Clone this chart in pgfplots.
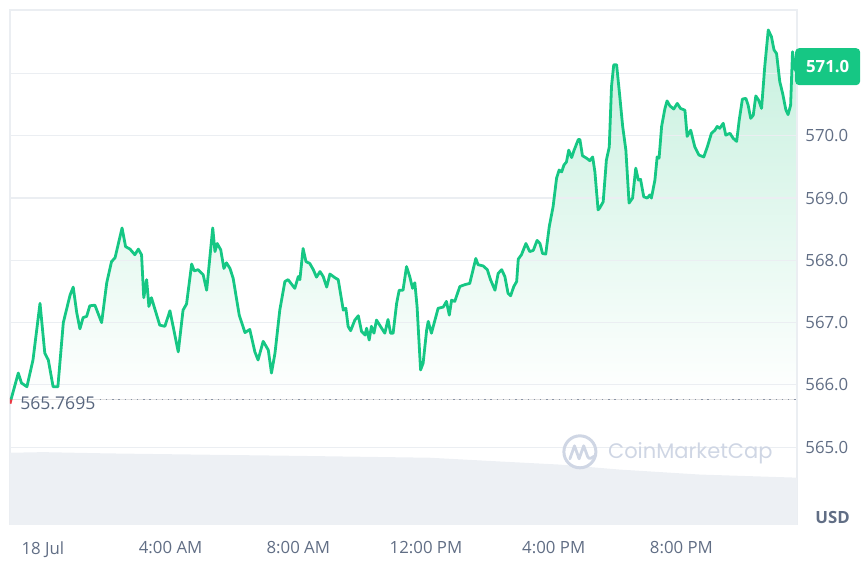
\documentclass[border=0pt]{standalone}
\usepackage{pgfplots}
\pgfplotsset{compat=1.18}
\usepackage{pgfplotstable}
\usepgfplotslibrary{fillbetween}
\usepackage{fontspec}
\setmainfont{Open Sans}
\newfontfamily\wmfont{Poppins}
\definecolor{cmcgreen}{HTML}{16C784}
\definecolor{cmcred}{HTML}{EA3943}
\definecolor{gridc}{HTML}{EBEEF2}
\definecolor{labc}{HTML}{616E85}
\definecolor{basec}{HTML}{58667E}
\definecolor{volc}{HTML}{EDF0F4}
\definecolor{wmc}{HTML}{CFD6E4}
\definecolor{filltop}{HTML}{C6F0DE}

\pgfplotstableread{
h p
-0.99 565.78
-0.77 566.19
-0.67 566.03
-0.50 565.97
-0.31 566.40
-0.09 567.31
0.06 566.51
0.17 566.40
0.32 565.97
0.47 565.97
0.64 567.00
0.85 567.44
0.95 567.57
1.06 567.16
1.16 566.90
1.26 567.08
1.37 567.10
1.47 567.27
1.63 567.28
1.84 567.00
2.00 567.64
2.15 567.98
2.26 568.04
2.48 568.52
2.59 568.22
2.73 568.18
2.88 568.09
2.99 568.18
3.09 568.09
3.16 567.40
3.25 567.69
3.32 567.26
3.40 567.40
3.66 566.96
3.82 566.94
3.98 567.19
4.24 566.53
4.39 567.20
4.50 567.30
4.66 567.94
4.74 567.83
4.86 567.85
5.02 567.77
5.13 567.52
5.32 568.52
5.39 568.14
5.46 568.27
5.57 568.17
5.67 567.87
5.75 567.96
5.86 567.87
5.96 567.71
6.15 567.12
6.33 566.84
6.48 566.89
6.64 566.53
6.74 566.40
6.90 566.70
7.06 566.56
7.16 566.19
7.27 566.51
7.42 567.20
7.58 567.66
7.68 567.69
7.89 567.55
8.00 567.74
8.05 567.69
8.15 568.19
8.24 567.98
8.36 567.95
8.47 567.85
8.57 567.73
8.68 567.82
8.78 567.74
8.89 567.57
8.99 567.78
9.15 567.72
9.25 567.69
9.41 567.20
9.49 567.23
9.56 566.94
9.64 566.87
9.77 567.04
9.88 567.11
9.98 566.86
10.09 566.80
10.14 566.91
10.22 566.72
10.29 566.94
10.37 566.83
10.45 567.04
10.61 566.91
10.71 566.83
10.81 567.05
10.89 566.83
10.97 566.83
11.08 567.31
11.16 567.52
11.28 567.52
11.39 567.90
11.49 567.74
11.58 567.55
11.65 567.64
11.72 567.26
11.83 566.24
11.91 566.35
12.02 566.88
12.07 567.02
12.17 566.83
12.28 567.04
12.38 567.23
12.54 567.25
12.64 567.34
12.73 567.12
12.80 567.36
12.90 567.34
13.06 567.58
13.22 567.61
13.37 567.63
13.56 568.03
13.63 567.93
13.79 567.91
13.92 567.85
14.02 567.69
14.16 567.52
14.26 567.79
14.37 567.85
14.47 567.74
14.57 567.47
14.65 567.43
14.75 567.58
14.84 567.66
14.89 568.02
14.99 568.09
15.13 568.27
15.25 568.14
15.36 568.16
15.48 568.32
15.57 568.27
15.65 568.11
15.75 568.10
15.86 568.54
15.98 568.86
16.09 569.32
16.17 569.45
16.25 569.42
16.32 569.53
16.40 569.58
16.47 569.77
16.56 569.65
16.64 569.77
16.77 569.94
16.82 569.94
16.90 569.68
17.03 569.64
17.13 569.60
17.22 569.66
17.29 569.42
17.39 568.81
17.44 568.84
17.55 568.94
17.65 569.61
17.74 569.82
17.81 570.79
17.88 571.14
17.97 571.14
18.07 570.63
18.16 570.15
18.26 569.77
18.36 568.92
18.47 569.00
18.57 569.48
18.65 569.29
18.72 569.30
18.82 569.02
18.93 569.00
19.01 569.05
19.06 569.00
19.17 569.29
19.24 569.66
19.30 569.64
19.38 570.15
19.48 570.43
19.55 570.56
19.64 570.48
19.76 570.43
19.87 570.52
19.97 570.44
20.11 570.41
20.18 569.99
20.29 570.09
20.42 569.82
20.55 569.69
20.70 569.66
20.81 569.82
20.94 570.04
21.05 570.09
21.12 570.15
21.20 570.12
21.31 570.20
21.39 570.01
21.52 570.04
21.62 569.96
21.73 569.91
21.81 570.25
21.91 570.59
22.02 570.60
22.09 570.49
22.17 570.28
22.25 570.33
22.33 570.64
22.42 570.57
22.51 570.44
22.61 571.11
22.72 571.70
22.82 571.59
22.90 571.38
22.98 571.32
23.08 570.87
23.17 570.68
23.27 570.42
23.34 570.34
23.42 570.49
23.48 571.35
23.55 571.08
23.61 571.02
}\pricedata

\pgfplotstableread{
h v
-1.03 563.75
-1.03 564.91
0.00 564.92
2.00 564.90
4.92 564.88
8.00 564.86
12.12 564.83
14.31 564.77
16.19 564.72
18.07 564.64
20.58 564.56
23.62 564.51
23.62 563.75
}\voldata

\begin{document}
\begin{tikzpicture}
\begin{axis}[
  at={(0,0)}, anchor=south west,
  scale only axis, width=393.5pt, height=257.5pt,
  xmin=-1.03, xmax=23.62, ymin=563.75, ymax=572.02,
  axis line style={draw=none},
  clip mode=individual,
  xticklabel pos=left, yticklabel pos=right,
  xtick={0,4,8,12,16,20},
  xticklabels={18 Jul,4:00 AM,8:00 AM,12:00 PM,4:00 PM,8:00 PM},
  ytick={565,566,567,568,569,570},
  yticklabels={565.0,566.0,567.0,568.0,569.0,570.0},
  major tick length=0pt,
  tick label style={font=\fontsize{8.4}{10}\selectfont, text=labc, inner sep=0pt},
  xticklabel style={anchor=north, yshift=-8pt},
  yticklabel style={anchor=west, xshift=4pt},
]
% price area (fill between lies on the layer below the main one)
\path[name path=base] (axis cs:-1.03,565.7695) -- (axis cs:23.62,565.7695);
\addplot[draw=none, name path=price, forget plot] table[x=h, y=p] {\pricedata};
\addplot[draw=none, top color=filltop, bottom color=white] fill between[of=price and base];
% frame (left, top, right) and horizontal grid lines
\draw[gridc, line width=0.6pt] (rel axis cs:0,0) -- (rel axis cs:0,1) -- (rel axis cs:1,1) -- (rel axis cs:1,0);
\draw[gridc, line width=0.6pt] (axis cs:-1.03,565) -- (axis cs:23.62,565);
\draw[gridc, line width=0.6pt] (axis cs:-1.03,566) -- (axis cs:23.62,566);
\draw[gridc, line width=0.6pt] (axis cs:-1.03,567) -- (axis cs:23.62,567);
\draw[gridc, line width=0.6pt] (axis cs:-1.03,568) -- (axis cs:23.62,568);
\draw[gridc, line width=0.6pt] (axis cs:-1.03,569) -- (axis cs:23.62,569);
\draw[gridc, line width=0.6pt] (axis cs:-1.03,570) -- (axis cs:23.62,570);
\draw[gridc, line width=0.6pt] (axis cs:-1.03,571) -- (axis cs:23.62,571);
% volume
\addplot[fill=volc, draw=none] table[x=h, y=v] {\voldata};
% baseline dotted
\draw[basec!70, dash pattern=on 0.7pt off 2.4pt, line width=0.7pt] (axis cs:1.78,565.7695) -- (axis cs:23.62,565.7695);
% price line
\addplot[cmcred, line width=1.4pt] coordinates {(-1.03,565.70) (-0.99,565.78)};
\addplot[cmcgreen, line width=1.4pt, line join=round, line cap=round] table[x=h, y=p] {\pricedata};
% labels
\node[anchor=west, text=basec, font=\fontsize{8.8}{10}\selectfont, inner sep=0pt] at (axis cs:-0.72,565.71) {565.7695};
\node[fill=cmcgreen, text=white, font=\bfseries\fontsize{8.4}{10}\selectfont, rounded corners=2pt, minimum width=32.5pt, minimum height=18.5pt, anchor=west, inner sep=0pt] at (axis cs:23.55,571.11) {571.0};
\node[anchor=west, text=labc, font=\bfseries\fontsize{8.4}{10}\selectfont, inner sep=0pt] at ([xshift=9pt,yshift=3.5pt]rel axis cs:1,0) {USD};
% watermark
\draw[wmc, line width=1.5pt] (axis cs:16.82,564.925) circle[radius=8pt];
\draw[wmc, line width=1.4pt, line cap=round, line join=round] ([shift={(-5pt,-3.5pt)}]axis cs:16.82,564.925) -- ++(2.3pt,6.5pt) -- ++(2.3pt,-6.5pt) -- ++(2.3pt,6.5pt) -- ++(2pt,-5.5pt) .. controls ++(0.8pt,-1.6pt) and ++(-1.2pt,-0.8pt) .. ++(3.4pt,0.4pt);
\node[anchor=base west, text=wmc, font=\wmfont\fontsize{10.5}{12}\selectfont, inner sep=0pt] at (axis cs:17.69,564.81) {CoinMarketCap};
\end{axis}
\path (-5pt,-18.5pt) rectangle (427pt,262.5pt);
\end{tikzpicture}
\end{document}
